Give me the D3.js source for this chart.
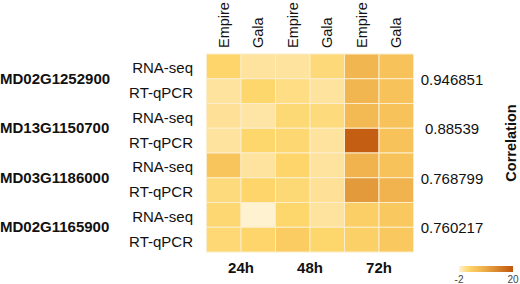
<!DOCTYPE html>
<html>
<head>
<meta charset="utf-8">
<script src="https://cdn.jsdelivr.net/npm/d3@7"></script>
<style>
  body { margin: 0; background: #fff; }
  text { font-family: Arial, "Liberation Sans", sans-serif; fill: #111; }
</style>
</head>
<body>
<div id="heatmap"></div>
<script>
const genes = ["MD02G1252900", "MD13G1150700", "MD03G1186000", "MD02G1165900"];
const methods = ["RNA-seq", "RT-qPCR"];
const cultivars = ["Empire", "Gala", "Empire", "Gala", "Empire", "Gala"];
const timepoints = ["24h", "48h", "72h"];
const correlations = ["0.946851", "0.88539", "0.768799", "0.760217"];
// one row per gene x method, columns follow cultivars
const values = [
  [2.2, 0, 0, 1.5, 7, 5],
  [0, 2, 1, 0, 7, 5],
  [0.3, -0.3, 1.6, 1.4, 6.5, 5],
  [0, 2, 1.8, 0, 19, 5],
  [4.5, 0, 2.2, 0, 7.5, 5],
  [1.4, 2.2, 1.6, 0.3, 11, 7.5],
  [1.8, -2, 2, 0, 3, 4],
  [1.7, 2.1, 3.5, 2, 2.8, 4],
];
const legendTicks = [-2, 20];

var width = 520,
  height = 284;
var svg = d3
  .select("#heatmap")
  .append("svg")
  .attr("width", width)
  .attr("height", height);

var rowKeys = [];
genes.forEach((g) => methods.forEach((m) => rowKeys.push(g + "|" + m)));
var colKeys = cultivars.map((c, i) => i);

var x = d3.scaleBand().domain(colKeys).range([206.5, 413.5]);
var y = d3.scaleBand().domain(rowKeys).range([54, 252]);

var color = d3
  .scaleLinear()
  .domain([-2, 0, 2, 4, 7, 11, 20])
  .range(["#fff2d0", "#fee39e", "#fdd66c", "#f9c85e", "#f2b650", "#e39a3a", "#c0560e"]);

// cells
var cells = [];
values.forEach((row, r) =>
  row.forEach((v, c) => cells.push({ row: rowKeys[r], col: c, value: v }))
);
svg
  .append("g")
  .selectAll("rect")
  .data(cells)
  .enter()
  .append("rect")
  .attr("x", (d) => x(d.col))
  .attr("y", (d) => y(d.row))
  .attr("width", x.bandwidth())
  .attr("height", y.bandwidth())
  .attr("fill", (d) => color(d.value))
  .attr("stroke", "#fbedcc")
  .attr("stroke-width", 1);

// cultivar labels on top
svg
  .append("g")
  .selectAll("text")
  .data(cultivars)
  .enter()
  .append("text")
  .attr("transform", (d, i) =>
    "translate(" + (x(i) + x.bandwidth() / 2 + 5) + ",48) rotate(-90)"
  )
  .attr("text-anchor", "start")
  .style("font-size", "14.5px")
  .text((d) => d);

// time labels below
svg
  .append("g")
  .selectAll("text")
  .data(timepoints)
  .enter()
  .append("text")
  .attr("x", (d, i) => x(i * 2 + 1))
  .attr("y", 273)
  .attr("text-anchor", "middle")
  .style("font-size", "15px")
  .style("font-weight", "bold")
  .text((d) => d);

// method labels
svg
  .append("g")
  .selectAll("text")
  .data(rowKeys)
  .enter()
  .append("text")
  .attr("x", 193)
  .attr("y", (d) => y(d) + y.bandwidth() / 2 + 3)
  .attr("text-anchor", "end")
  .attr("dominant-baseline", "middle")
  .style("font-size", "15px")
  .text((d) => d.split("|")[1]);

// gene labels
svg
  .append("g")
  .selectAll("text")
  .data(genes)
  .enter()
  .append("text")
  .attr("x", 0)
  .attr("y", (d) => y(d + "|" + methods[1]) + 1)
  .attr("dominant-baseline", "middle")
  .style("font-size", "15px")
  .style("font-weight", "bold")
  .text((d) => d);

// correlation values
svg
  .append("g")
  .selectAll("text")
  .data(correlations)
  .enter()
  .append("text")
  .attr("x", 452)
  .attr("y", (d, i) => y(genes[i] + "|" + methods[1]) + 2)
  .attr("text-anchor", "middle")
  .attr("dominant-baseline", "middle")
  .style("font-size", "15px")
  .text((d) => d);

svg
  .append("text")
  .attr("transform", "translate(512,143) rotate(-90)")
  .attr("text-anchor", "middle")
  .attr("dominant-baseline", "middle")
  .style("font-size", "14.5px")
  .style("font-weight", "bold")
  .text("Correlation");

// legend
var defs = svg.append("defs");
var grad = defs
  .append("linearGradient")
  .attr("id", "legendGrad")
  .attr("x1", "0%")
  .attr("x2", "100%");
var lx = d3.scaleLinear().domain(legendTicks).range([459, 513]);
color.domain().forEach((v) => {
  grad
    .append("stop")
    .attr("offset", ((v - legendTicks[0]) / (legendTicks[1] - legendTicks[0])) * 100 + "%")
    .attr("stop-color", color(v));
});
svg
  .append("rect")
  .attr("x", lx(legendTicks[0]))
  .attr("y", 266)
  .attr("width", lx(legendTicks[1]) - lx(legendTicks[0]))
  .attr("height", 6)
  .attr("fill", "url(#legendGrad)");
svg
  .append("g")
  .selectAll("text")
  .data(legendTicks)
  .enter()
  .append("text")
  .attr("x", (d) => lx(d))
  .attr("y", 283)
  .attr("text-anchor", "middle")
  .style("font-size", "10px")
  .style("fill", "#444")
  .text((d) => d);
</script>
</body>
</html>
